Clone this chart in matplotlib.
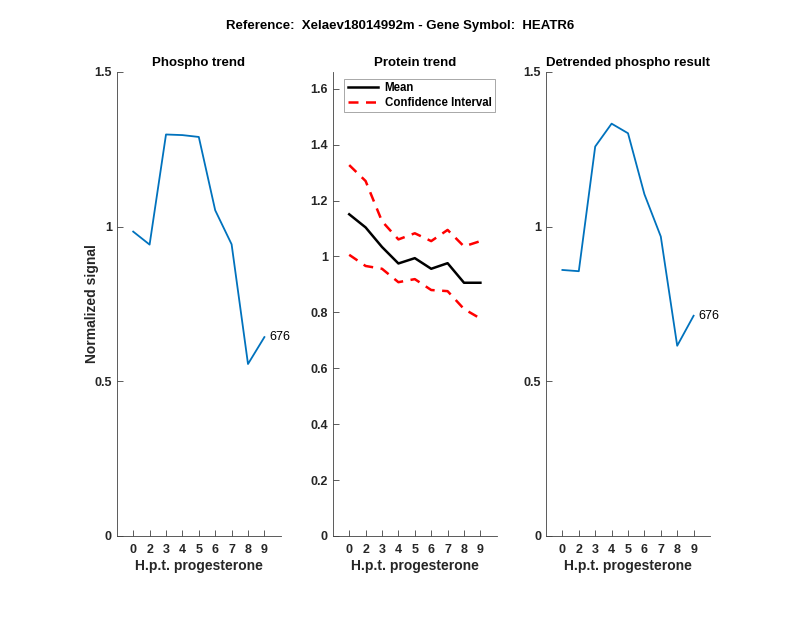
import matplotlib
matplotlib.use("Agg")
import matplotlib.pyplot as plt

plt.rcParams['font.family'] = ['Liberation Sans', 'DejaVu Sans']

# data
tick_labels = ['0', '2', '3', '4', '5', '6', '7', '8', '9']
pos = list(range(1, 10))
phospho = [0.984, 0.942, 1.298, 1.296, 1.290, 1.053, 0.943, 0.556, 0.643]
detrended = [0.860, 0.856, 1.259, 1.333, 1.302, 1.105, 0.968, 0.615, 0.712]
prot_mean = [1.151, 1.104, 1.034, 0.975, 0.994, 0.956, 0.976, 0.906, 0.906]
prot_upper = [1.327, 1.270, 1.126, 1.061, 1.083, 1.055, 1.095, 1.036, 1.055]
prot_lower = [1.006, 0.966, 0.956, 0.908, 0.919, 0.880, 0.876, 0.812, 0.778]
peptide_id = '676'

blue = '#0072BD'
axcol = '#404040'

fig = plt.figure(figsize=(8, 6.18), dpi=100)
fig.suptitle('Reference:  Xelaev18014992m - Gene Symbol:  HEATR6',
             fontsize=9.5, fontweight='bold', y=0.967)

bottom, height = 0.1327, 0.7508
lefts = [0.146, 0.416, 0.6825]
width = 0.205
axes = [fig.add_axes([l, bottom, width, height]) for l in lefts]


def style(ax, title):
    ax.set_xlim(0, 10)
    ax.set_xticks(pos)
    ax.set_xticklabels(tick_labels)
    ax.set_xlabel('H.p.t. progesterone', fontsize=10, fontweight='bold',
                  color='#262626', labelpad=2)
    ax.set_title(title, fontsize=9.5, fontweight='bold', pad=4)
    for s in ['top', 'right']:
        ax.spines[s].set_visible(False)
    for s in ['left', 'bottom']:
        ax.spines[s].set_color(axcol)
        ax.spines[s].set_linewidth(0.6)
    ax.tick_params(direction='in', length=4, width=0.6, colors=axcol,
                   labelcolor='#262626', labelsize=9)
    ax.tick_params(axis='x', pad=6)
    for lab in ax.get_xticklabels() + ax.get_yticklabels():
        lab.set_fontweight('bold')


ax1, ax2, ax3 = axes

ax1.plot(pos, phospho, color=blue, lw=1.3)
ax1.text(pos[-1] + 0.3, phospho[-1], peptide_id, fontsize=9, va='center')
ax1.set_ylim(0, 1.5)
ax1.set_yticks([0, 0.5, 1, 1.5])
ax1.set_yticklabels(['0', '0.5', '1', '1.5'])
ax1.set_ylabel('Normalized signal', fontsize=10, fontweight='bold',
               color='#262626', labelpad=-3)
style(ax1, 'Phospho trend')

ax2.plot(pos, prot_mean, color='black', lw=1.8, label='Mean')
ax2.plot(pos, prot_upper, color='red', lw=1.8, ls=(0, (4, 3)), label='Confidence Interval')
ax2.plot(pos, prot_lower, color='red', lw=1.8, ls=(0, (4, 3)))
ax2.set_ylim(0, 1.66)
ax2.set_yticks([0, 0.2, 0.4, 0.6, 0.8, 1, 1.2, 1.4, 1.6])
ax2.set_yticklabels(['0', '0.2', '0.4', '0.6', '0.8', '1', '1.2', '1.4', '1.6'])
style(ax2, 'Protein trend')
leg = ax2.legend(loc='upper left', frameon=True, fancybox=False,
                 bbox_to_anchor=(0.07, 0.985), borderaxespad=0.0,
                 handlelength=2.6, labelspacing=0.2, borderpad=0.3,
                 handletextpad=0.6, prop={'weight': 'bold', 'size': 8.3})
leg.get_frame().set_edgecolor('#808080')
leg.get_frame().set_linewidth(0.6)

ax3.plot(pos, detrended, color=blue, lw=1.3)
ax3.text(pos[-1] + 0.3, detrended[-1], peptide_id, fontsize=9, va='center')
ax3.set_ylim(0, 1.5)
ax3.set_yticks([0, 0.5, 1, 1.5])
ax3.set_yticklabels(['0', '0.5', '1', '1.5'])
style(ax3, 'Detrended phospho result')

fig.savefig('out.png', dpi=100)
